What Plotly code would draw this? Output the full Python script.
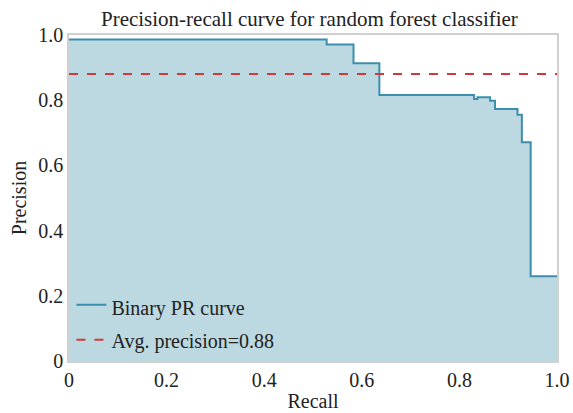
import plotly.graph_objects as go

recall = [0.0, 0.528, 0.583, 0.636, 0.830, 0.837, 0.863, 0.873, 0.919, 0.928, 0.946, 1.0]
precision = [0.986, 0.971, 0.913, 0.816, 0.804, 0.809, 0.798, 0.773, 0.755, 0.671, 0.260, 0.260]
avg_precision = 0.88
tick_vals = [0, 0.2, 0.4, 0.6, 0.8, 1.0]
tick_text = ["0", "0.2", "0.4", "0.6", "0.8", "1.0"]

fig = go.Figure()
fig.add_trace(go.Scatter(
    x=recall, y=precision, mode="lines", line_shape="hv",
    line=dict(color="#3b8fad", width=2),
    fill="tozeroy", fillcolor="rgba(188,216,224,1)",
    name="Binary PR curve", legendgroup="a",
))
fig.add_trace(go.Scatter(
    x=[0, 1], y=[avg_precision, avg_precision], mode="lines",
    line=dict(color="#d1383b", width=2, dash="dash"),
    name="Avg. precision=%.2f" % avg_precision, legendgroup="b",
))

serif = "Liberation Serif, Times New Roman, serif"
def f(size):
    return dict(family=serif, size=size, color="#222222")

fig.update_layout(
    width=573, height=413,
    margin=dict(l=69, r=16, t=35, b=52, autoexpand=False),
    paper_bgcolor="white", plot_bgcolor="white",
    font=f(20),
    title=dict(text="Precision-recall curve for random forest classifier",
               x=0.54, xanchor="center", y=0.955, yanchor="middle",
               font=f(21)),
    legend=dict(x=0.005, y=0.005, xanchor="left", yanchor="bottom",
                bgcolor="rgba(0,0,0,0)", font=f(20),
                tracegroupgap=4, itemwidth=30),
    showlegend=True,
)
fig.update_xaxes(range=[0, 1], tickvals=tick_vals, ticktext=tick_text,
                 tickfont=f(20),
                 showgrid=False, zeroline=False, showline=True, mirror=True,
                 linecolor="#d0d0d0", linewidth=1.5, ticks="", automargin=False,
                 title=dict(text="Recall", standoff=4, font=f(20)))
fig.update_yaxes(range=[0, 1], tickvals=tick_vals, ticktext=tick_text,
                 tickfont=f(20),
                 showgrid=False, zeroline=False, showline=True, mirror=True,
                 linecolor="#d0d0d0", linewidth=1.5, ticks="", automargin=False,
                 title=dict(text="Precision", standoff=6, font=f(20)))

fig.write_html("out.html")
